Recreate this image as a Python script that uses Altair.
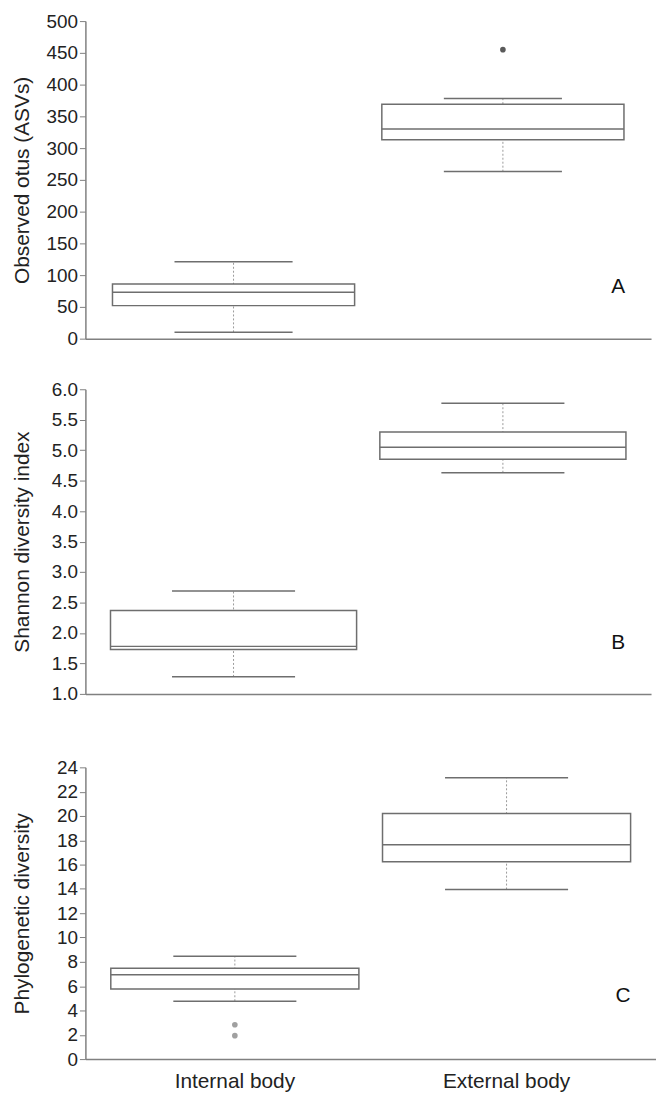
import altair as alt
import pandas as pd

groups = ["Internal body", "External body"]

# Panel A: Observed otus (ASVs)
a_low = [10, 263]
a_q1 = [52, 313]
a_med = [73, 330]
a_q3 = [86, 369]
a_high = [121, 378]
a_out_group = ["External body"]
a_out_val = [455]
a_ticks = [0, 50, 100, 150, 200, 250, 300, 350, 400, 450, 500]

# Panel B: Shannon diversity index
b_low = [1.28, 4.63]
b_q1 = [1.73, 4.85]
b_med = [1.78, 5.05]
b_q3 = [2.37, 5.30]
b_high = [2.69, 5.77]
b_out_group = []
b_out_val = []
b_ticks = [1.0, 1.5, 2.0, 2.5, 3.0, 3.5, 4.0, 4.5, 5.0, 5.5, 6.0]

# Panel C: Phylogenetic diversity
c_low = [4.76, 13.95]
c_q1 = [5.77, 16.23]
c_med = [6.93, 17.64]
c_q3 = [7.48, 20.2]
c_high = [8.46, 23.14]
c_out_group = ["Internal body", "Internal body"]
c_out_val = [2.83, 1.93]
c_ticks = [0, 2, 4, 6, 8, 10, 12, 14, 16, 18, 20, 22, 24]

FONT = "Liberation Sans"
LINE = "#6e6e6e"


def panel(title, low, q1, med, q3, high, out_g, out_v, ticks, fmt, domain,
          width, height, box_size, cap_size, letter, letter_val, show_x,
          out_color):
    df = pd.DataFrame({"group": groups, "low": low, "q1": q1, "med": med,
                       "q3": q3, "high": high})
    if show_x:
        xaxis = alt.Axis(title=None, labelAngle=0, labelFont=FONT,
                         labelFontSize=21, labelColor="#222", labelPadding=12,
                         ticks=False, domainColor="#808080", domainWidth=1.5)
    else:
        xaxis = alt.Axis(title=None, labels=False, ticks=False,
                         domainColor="#808080", domainWidth=1.5)
    x = alt.X("group:N", sort=groups,
              scale=alt.Scale(paddingInner=0, paddingOuter=0.05), axis=xaxis)
    yscale = alt.Scale(domain=domain, nice=False, zero=False)
    yaxis = alt.Axis(title=title, values=ticks, tickCount=len(ticks) + 2,
                     format=fmt, grid=False, labelOverlap=False,
                     labelFont=FONT, labelFontSize=19, labelColor="#222",
                     titleFont=FONT, titleFontSize=21, titleFontWeight="normal",
                     titleColor="#222", domainColor="#808080", domainWidth=1.5,
                     tickColor="#808080", tickSize=6, labelPadding=2,
                     minExtent=42, titlePadding=11)
    base = alt.Chart(df)
    whisker = base.mark_rule(color="#9a9a9a", strokeDash=[2, 2],
                             strokeWidth=1, opacity=1).encode(
        x=x, y=alt.Y("low:Q", scale=yscale, axis=yaxis), y2="high:Q")
    box = base.mark_bar(size=box_size, fill="white", stroke=LINE,
                        strokeWidth=1.5, opacity=1).encode(
        x=x, y=alt.Y("q1:Q", scale=yscale, axis=yaxis), y2="q3:Q")
    median = base.mark_tick(size=box_size, thickness=1.5, color=LINE,
                            opacity=1).encode(
        x=x, y=alt.Y("med:Q", scale=yscale, axis=yaxis))
    cap_lo = base.mark_tick(size=cap_size, thickness=1.5, color=LINE,
                            opacity=1).encode(
        x=x, y=alt.Y("low:Q", scale=yscale, axis=yaxis))
    cap_hi = base.mark_tick(size=cap_size, thickness=1.5, color=LINE,
                            opacity=1).encode(
        x=x, y=alt.Y("high:Q", scale=yscale, axis=yaxis))
    layers = [whisker, box, median, cap_lo, cap_hi]
    if len(out_v) > 0:
        odf = pd.DataFrame({"group": out_g, "val": out_v})
        pts = alt.Chart(odf).mark_point(filled=True, size=32, color=out_color,
                                        opacity=1, shape="circle").encode(
            x=x, y=alt.Y("val:Q", scale=yscale, axis=yaxis))
        layers.append(pts)
    ldf = pd.DataFrame({"t": [letter], "v": [letter_val]})
    lab = alt.Chart(ldf).mark_text(font=FONT, fontSize=21, color="#111",
                                   align="center", baseline="middle").encode(
        x=alt.value(width * 0.942),
        y=alt.Y("v:Q", scale=yscale, axis=yaxis),
        text="t:N")
    layers.append(lab)
    return alt.layer(*layers).properties(width=width, height=height)


pa = panel("Observed otus (ASVs)", a_low, a_q1, a_med, a_q3, a_high,
           a_out_group, a_out_val, a_ticks, "d", [0, 500],
           570, 320, 244, 119, "A", 82, False, "#5a5a5a")
pb = panel("Shannon diversity index", b_low, b_q1, b_med, b_q3, b_high,
           b_out_group, b_out_val, b_ticks, ".1f", [1, 6],
           570, 307, 248, 124, "B", 1.84, False, "#5a5a5a")
pc = panel("Phylogenetic diversity", c_low, c_q1, c_med, c_q3, c_high,
           c_out_group, c_out_val, c_ticks, "d", [0, 24],
           575, 294, 250, 124, "C", 5.2, True, "#a0a0a0")

top = alt.vconcat(pa, pb, spacing=32)
chart = alt.vconcat(top, pc, spacing=55).properties(
    padding={"left": 4, "top": 0, "right": 0, "bottom": 0}
).configure_view(stroke=None)

chart.save("out.html", embed_options={"renderer": "svg", "actions": False})
